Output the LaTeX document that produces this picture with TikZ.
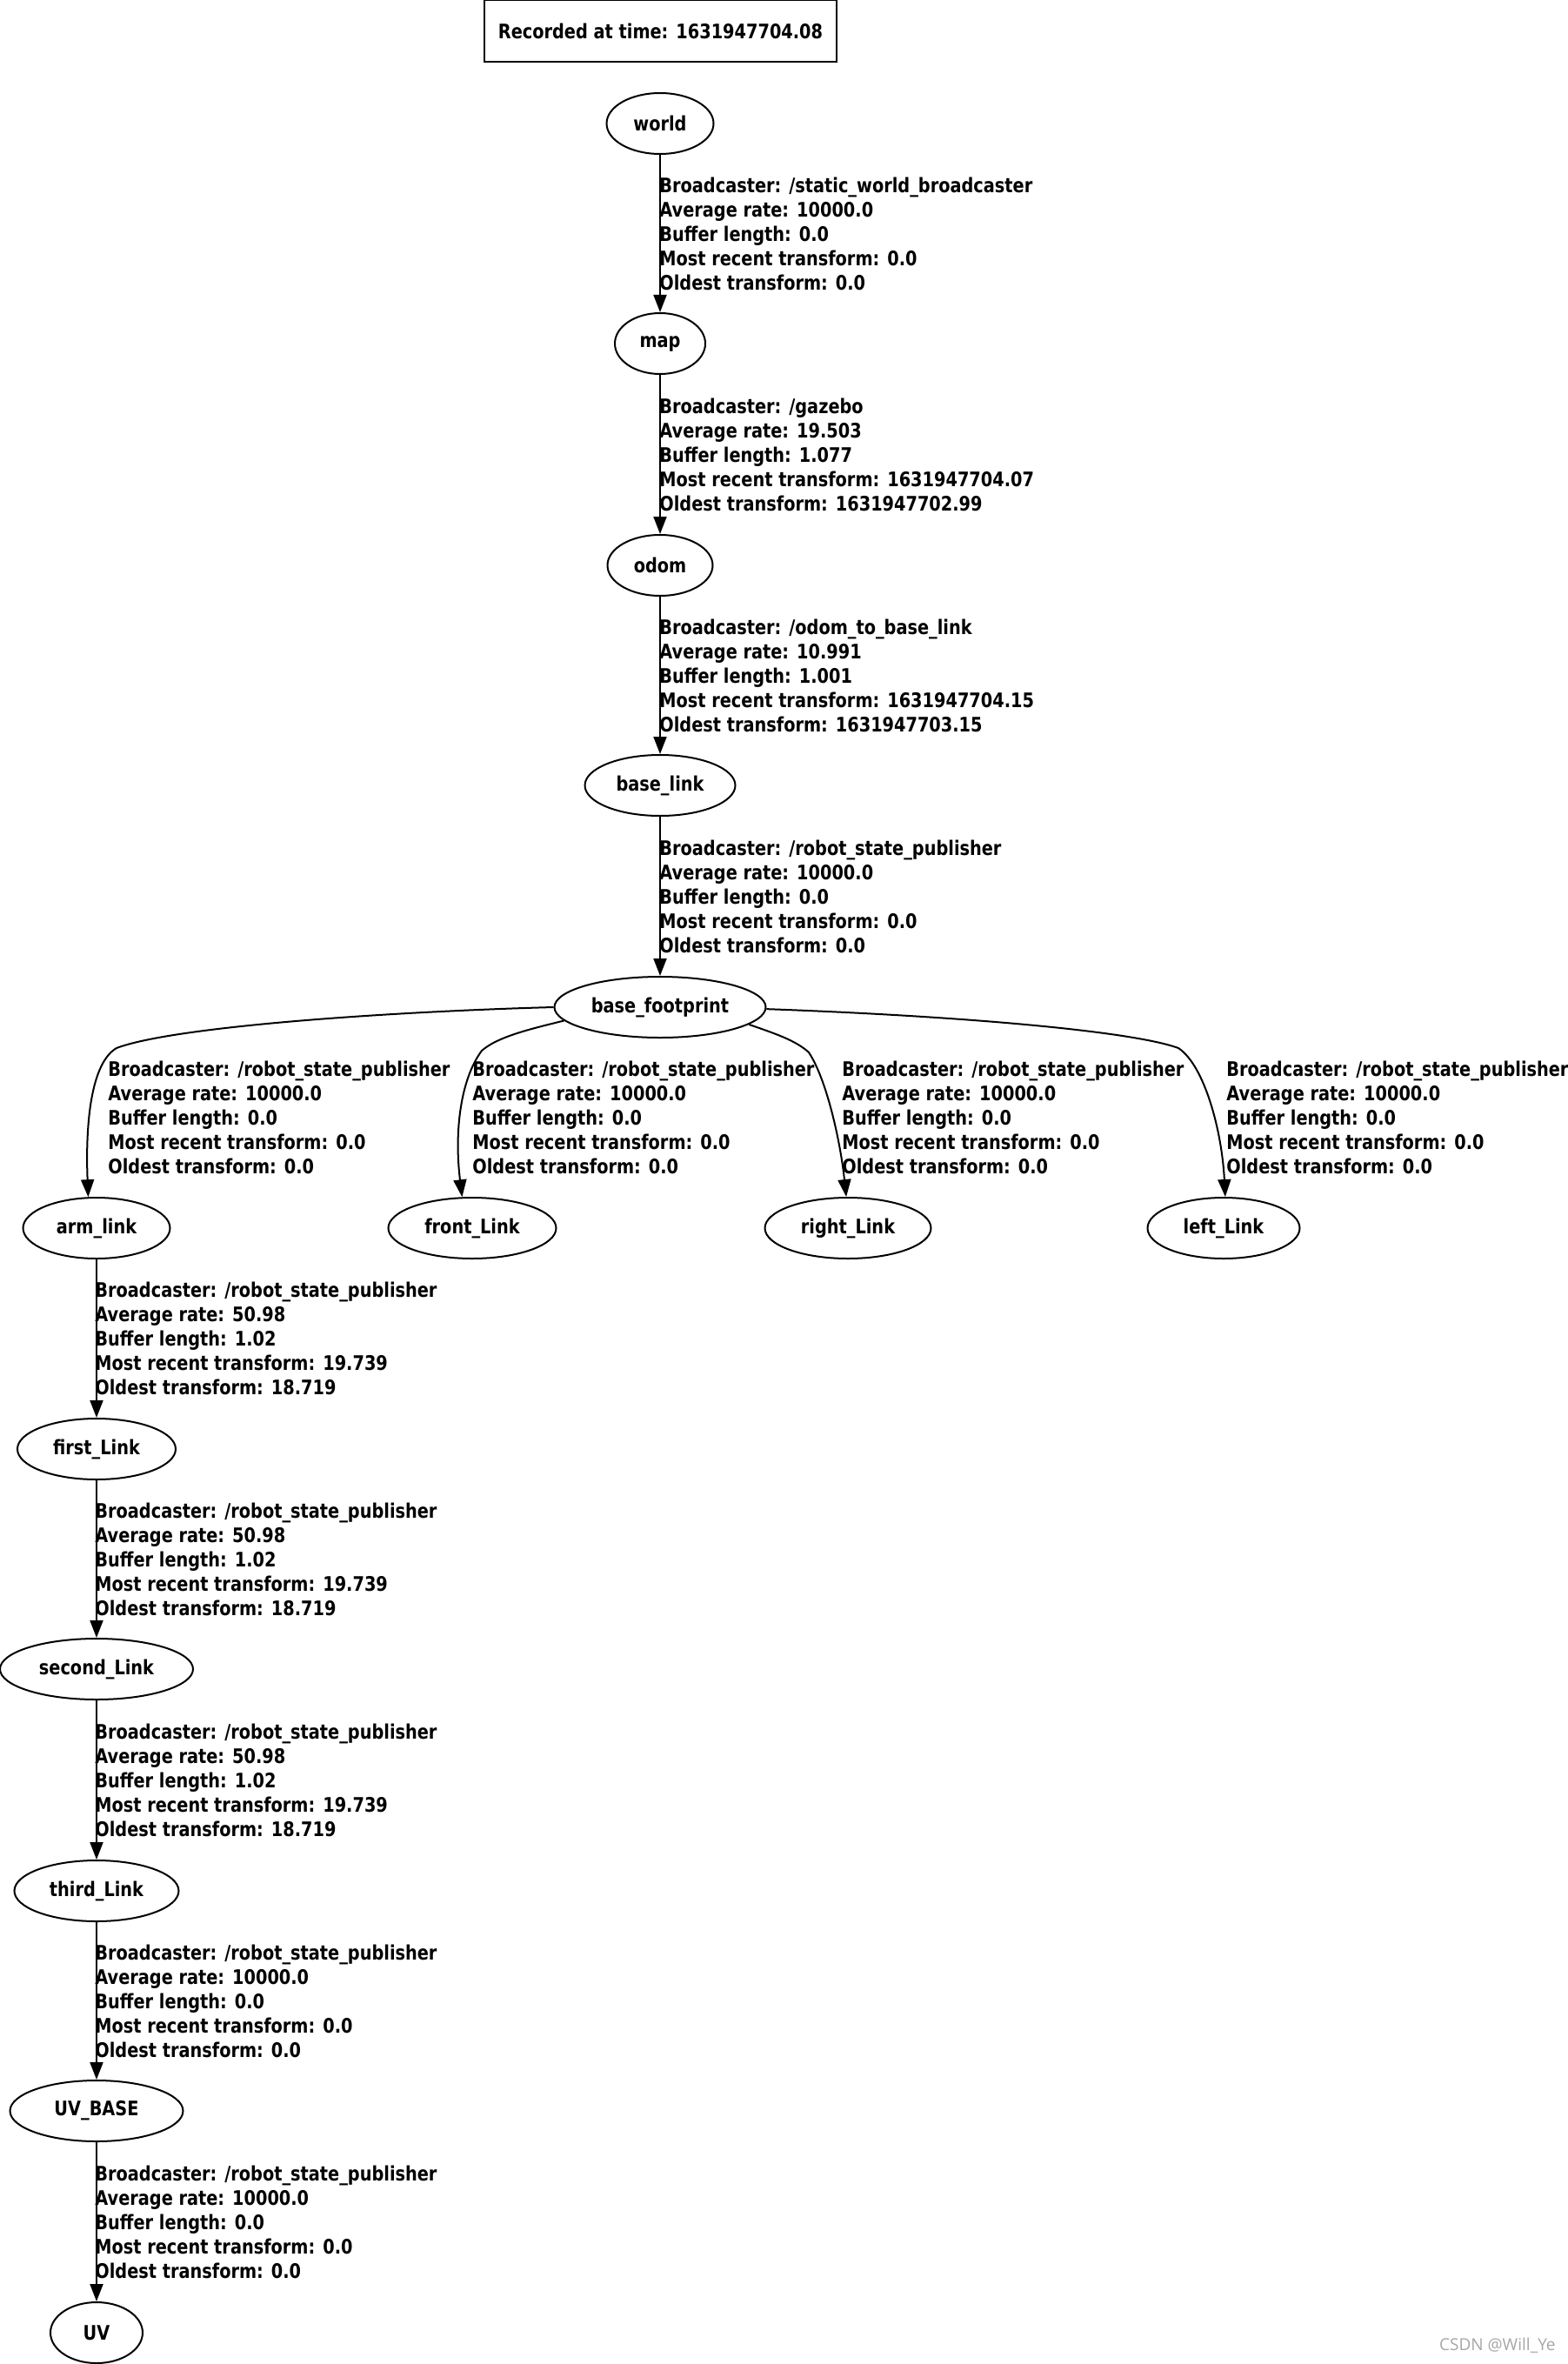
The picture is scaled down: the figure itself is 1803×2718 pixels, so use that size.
\documentclass[tikz,border=0pt]{standalone}
\usepackage{fontspec}
\setmainfont{DejaVu Sans}[FakeStretch=0.84]
\newfontfamily\wmfont{Open Sans}
\usepackage{tikz}
\usetikzlibrary{arrows.meta,shapes.geometric}
\newcommand{\tffont}{\fontsize{11.5}{14}\selectfont\bfseries}
\newcommand{\tfinfo}[5]{Broadcaster: #1\\Average rate: #2\\Buffer length: #3\\Most recent transform: #4\\Oldest transform: #5}
\tikzset{
  fr/.style={draw,ellipse,line width=1pt,inner sep=0pt,minimum height=35pt,minimum width=#1,font=\tffont},
  lbl/.style={anchor=west,align=left,inner sep=0pt,font=\tffont},
  ar/.style={-{Triangle[length=10pt,width=7.5pt]},line width=1pt},
  stamp/.style={draw,line width=1pt,minimum width=202.5pt,minimum height=35.5pt,inner sep=0pt,font=\tffont}
}

\begin{document}
\begin{tikzpicture}[x=0.5pt,y=-0.5pt]
\useasboundingbox (0,0) rectangle (1803,2718);
\node[stamp] (rec) at (759.5,36) {Recorded at time: 1631947704.08};
% main chain
\node[fr=61.5pt] (world) at (759,142) {world};
\node[fr=52pt] (map) at (759,395) {map};
\node[fr=60.5pt] (odom) at (759,650) {odom};
\node[fr=86.5pt] (blink) at (759,903) {base\_link};
\node[fr=121.5pt] (bfp) at (759,1158) {base\_footprint};
% children of base_footprint
\node[fr=84.5pt] (armL) at (111,1412) {arm\_link};
\node[fr=96.5pt] (frontL) at (543,1412) {front\_Link};
\node[fr=95.5pt] (rightL) at (975,1412) {right\_Link};
\node[fr=87.5pt] (leftL) at (1407,1412) {left\_Link};
% arm chain
\node[fr=91pt] (firstL) at (111,1666) {first\_Link};
\node[fr=111pt] (secondL) at (111,1919) {second\_Link};
\node[fr=94.5pt] (thirdL) at (111,2174) {third\_Link};
\node[fr=99.5pt] (uvbase) at (111,2427) {UV\_BASE};
\node[fr=53pt] (uv) at (111,2682) {UV};

\draw[ar] (world) -- (map);
\draw[ar] (map) -- (odom);
\draw[ar] (odom) -- (blink);
\draw[ar] (blink) -- (bfp);
\node[lbl] (l1) at (758,268.5) {\tfinfo{/static\_world\_broadcaster}{10000.0}{0.0}{0.0}{0.0}};
\node[lbl] (l2) at (758,522.5) {\tfinfo{/gazebo}{19.503}{1.077}{1631947704.07}{1631947702.99}};
\node[lbl] (l3) at (758,776.5) {\tfinfo{/odom\_to\_base\_link}{10.991}{1.001}{1631947704.15}{1631947703.15}};
\node[lbl] (l4) at (758,1030.5) {\tfinfo{/robot\_state\_publisher}{10000.0}{0.0}{0.0}{0.0}};

\draw[ar] (bfp.west) .. controls (450,1163) and (200,1180) .. (134,1205) .. controls (105,1222) and (98,1290) .. (armL.105);
\draw[ar] (bfp.188) .. controls (610,1183) and (572,1192) .. (554,1208) .. controls (530,1240) and (522,1300) .. (frontL.108);
\draw[ar] (bfp.-11) .. controls (890,1188) and (915,1196) .. (930,1210) .. controls (950,1240) and (966,1310) .. (rightL.93);
\draw[ar] (bfp.-1) .. controls (1100,1168) and (1300,1185) .. (1355,1205) .. controls (1385,1225) and (1405,1300) .. (leftL.87);
\node[lbl] (l5) at (124,1284.5) {\tfinfo{/robot\_state\_publisher}{10000.0}{0.0}{0.0}{0.0}};
\node[lbl] (l6) at (543,1284.5) {\tfinfo{/robot\_state\_publisher}{10000.0}{0.0}{0.0}{0.0}};
\node[lbl] (l7) at (968,1284.5) {\tfinfo{/robot\_state\_publisher}{10000.0}{0.0}{0.0}{0.0}};
\node[lbl] (l8) at (1410,1284.5) {\tfinfo{/robot\_state\_publisher}{10000.0}{0.0}{0.0}{0.0}};

\draw[ar] (armL) -- (firstL);
\draw[ar] (firstL) -- (secondL);
\draw[ar] (secondL) -- (thirdL);
\draw[ar] (thirdL) -- (uvbase);
\draw[ar] (uvbase) -- (uv);
\node[lbl] (l9) at (109,1538.5) {\tfinfo{/robot\_state\_publisher}{50.98}{1.02}{19.739}{18.719}};
\node[lbl] (l10) at (109,1792.5) {\tfinfo{/robot\_state\_publisher}{50.98}{1.02}{19.739}{18.719}};
\node[lbl] (l11) at (109,2046.5) {\tfinfo{/robot\_state\_publisher}{50.98}{1.02}{19.739}{18.719}};
\node[lbl] (l12) at (109,2300.5) {\tfinfo{/robot\_state\_publisher}{10000.0}{0.0}{0.0}{0.0}};
\node[lbl] (l13) at (109,2554.5) {\tfinfo{/robot\_state\_publisher}{10000.0}{0.0}{0.0}{0.0}};

\node[font=\wmfont\fontsize{9.5}{11}\selectfont,text=gray!70,anchor=east,inner sep=0pt] (wm) at (1789,2697) {CSDN @Will\_Ye};
\end{tikzpicture}
\end{document}
